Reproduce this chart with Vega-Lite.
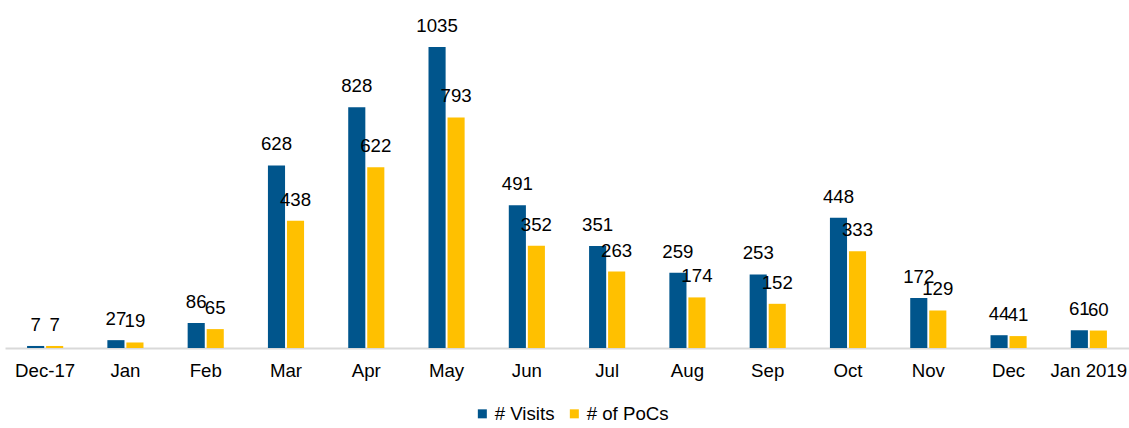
{
  "$schema": "https://vega.github.io/schema/vega-lite/v6.json",
  "width": 1124,
  "height": 348,
  "padding": {"left": 5, "top": 0, "right": 0, "bottom": 0},
  "background": "white",
  "config": {
    "view": {"stroke": null},
    "font": "Liberation Sans"
  },
  "data": {
    "values": [
      {"month": "Dec-17", "series": "# Visits", "value": 7},
      {"month": "Dec-17", "series": "# of PoCs", "value": 7},
      {"month": "Jan", "series": "# Visits", "value": 27},
      {"month": "Jan", "series": "# of PoCs", "value": 19},
      {"month": "Feb", "series": "# Visits", "value": 86},
      {"month": "Feb", "series": "# of PoCs", "value": 65},
      {"month": "Mar", "series": "# Visits", "value": 628},
      {"month": "Mar", "series": "# of PoCs", "value": 438},
      {"month": "Apr", "series": "# Visits", "value": 828},
      {"month": "Apr", "series": "# of PoCs", "value": 622},
      {"month": "May", "series": "# Visits", "value": 1035},
      {"month": "May", "series": "# of PoCs", "value": 793},
      {"month": "Jun", "series": "# Visits", "value": 491},
      {"month": "Jun", "series": "# of PoCs", "value": 352},
      {"month": "Jul", "series": "# Visits", "value": 351},
      {"month": "Jul", "series": "# of PoCs", "value": 263},
      {"month": "Aug", "series": "# Visits", "value": 259},
      {"month": "Aug", "series": "# of PoCs", "value": 174},
      {"month": "Sep", "series": "# Visits", "value": 253},
      {"month": "Sep", "series": "# of PoCs", "value": 152},
      {"month": "Oct", "series": "# Visits", "value": 448},
      {"month": "Oct", "series": "# of PoCs", "value": 333},
      {"month": "Nov", "series": "# Visits", "value": 172},
      {"month": "Nov", "series": "# of PoCs", "value": 129},
      {"month": "Dec", "series": "# Visits", "value": 44},
      {"month": "Dec", "series": "# of PoCs", "value": 41},
      {"month": "Jan 2019", "series": "# Visits", "value": 61},
      {"month": "Jan 2019", "series": "# of PoCs", "value": 60}
    ]
  },
  "encoding": {
    "x": {
      "field": "month",
      "type": "nominal",
      "sort": null,
      "scale": {"paddingInner": 0.55, "paddingOuter": 0.275},
      "axis": {
        "title": null,
        "labelAngle": 0,
        "labelFontSize": 18.67,
        "labelColor": "#000000",
        "labelPadding": 13,
        "ticks": false,
        "domainColor": "#d9d9d9",
        "domainWidth": 2
      }
    },
    "xOffset": {
      "field": "series",
      "type": "nominal",
      "sort": ["# Visits", "# of PoCs"],
      "scale": {"paddingInner": 0.1}
    },
    "y": {
      "field": "value",
      "type": "quantitative",
      "scale": {"domain": [0, 1197], "nice": false},
      "axis": null
    }
  },
  "layer": [
    {
      "mark": {"type": "bar"},
      "encoding": {
        "color": {
          "field": "series",
          "type": "nominal",
          "sort": ["# Visits", "# of PoCs"],
          "scale": {"domain": ["# Visits", "# of PoCs"], "range": ["#00558C", "#FFC000"]},
          "legend": {
            "title": null,
            "orient": "none",
            "legendX": 468,
            "legendY": 404,
            "direction": "horizontal",
            "symbolType": "square",
            "symbolSize": 81,
            "symbolStrokeWidth": 0,
            "labelFontSize": 18.67,
            "labelColor": "#000000",
            "columnPadding": 10,
            "labelOffset": 3
          }
        }
      }
    },
    {
      "mark": {"type": "text", "baseline": "alphabetic", "dy": -15, "fontSize": 18.67, "color": "#000000"},
      "encoding": {
        "text": {"field": "value", "type": "quantitative"}
      }
    }
  ]
}
